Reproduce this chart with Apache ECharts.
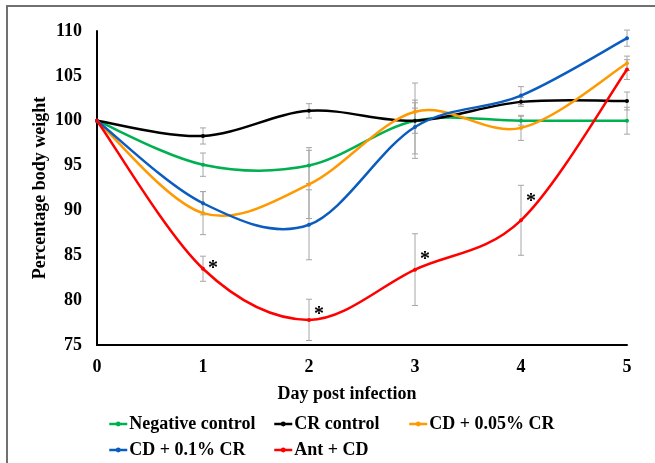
<!DOCTYPE html>
<html>
<head>
<meta charset="utf-8">
<script src="https://cdn.jsdelivr.net/npm/echarts@6/dist/echarts.min.js"></script>
<style>
html,body{margin:0;padding:0;background:#fff;}
#main{width:655px;height:463px;}
</style>
</head>
<body>
<div id="main"></div>
<script>
// days post infection
var days = [0, 1, 2, 3, 4, 5];
// mean percentage body weight per group
var negCtrl = [100, 95.1, 95.0, 100.0, 100.0, 100.0];
var crCtrl = [100, 98.3, 101.1, 100.0, 102.1, 102.2];
var cd005 = [100, 89.7, 92.9, 101.0, 99.2, 106.4];
var cd01 = [100, 90.8, 88.4, 99.3, 102.8, 109.2];
var antCd = [100, 83.5, 77.8, 83.4, 88.9, 105.7];
// error (+/-) per group
var negErr = [0, 1.3, 2.0, 4.2, 0.5, 1.5];
var crErr = [0, 0.9, 0.8, 1.4, 0.5, 1.0];
var cd005Err = [0, 2.4, 3.8, 1.0, 1.4, 0.8];
var cd01Err = [0, 1.3, 3.9, 3.0, 1.0, 0.9];
var antErr = [0, 1.4, 2.3, 4.0, 3.9, 1.1];
// days with significance mark on Ant + CD
var sigDays = [1, 2, 3, 4];
var sigLift = [0, 5, 10, 18];

var groups = [
    {name: 'Negative control', vals: negCtrl, err: negErr, color: '#00B050'},
    {name: 'CR control', vals: crCtrl, err: crErr, color: '#000000'},
    {name: 'CD + 0.05% CR', vals: cd005, err: cd005Err, color: '#FF9900'},
    {name: 'CD + 0.1% CR', vals: cd01, err: cd01Err, color: '#0B5CC0'},
    {name: 'Ant + CD', vals: antCd, err: antErr, color: '#FF0000'}
];

var serif = 'Liberation Serif, Times New Roman, serif';

function errRender(params, api) {
    var x = api.value(0), y = api.value(1), e = api.value(2);
    if (!e) return;
    var top = api.coord([x, y + e]);
    var bot = api.coord([x, y - e]);
    var st = {stroke: '#A6A6A6', lineWidth: 1};
    return {
        type: 'group',
        children: [
            {type: 'line', shape: {x1: top[0], y1: top[1], x2: bot[0], y2: bot[1]}, style: st},
            {type: 'line', shape: {x1: top[0] - 3, y1: top[1], x2: top[0] + 3, y2: top[1]}, style: st},
            {type: 'line', shape: {x1: bot[0] - 3, y1: bot[1], x2: bot[0] + 3, y2: bot[1]}, style: st}
        ]
    };
}

// excel-like smoothed segment from point i to i+1
function curveRender(g) {
    return function(params, api) {
        var i = params.dataIndex;
        if (i >= days.length - 1) return;
        var P = function(k) {
            k = Math.max(0, Math.min(days.length - 1, k));
            return api.coord([days[k], g.vals[k]]);
        };
        var p0 = P(i - 1), p1 = P(i), p2 = P(i + 1), p3 = P(i + 2);
        return {
            type: 'bezierCurve',
            shape: {
                x1: p1[0], y1: p1[1], x2: p2[0], y2: p2[1],
                cpx1: p1[0] + (p2[0] - p0[0]) / 6, cpy1: p1[1] + (p2[1] - p0[1]) / 6,
                cpx2: p2[0] - (p3[0] - p1[0]) / 6, cpy2: p2[1] - (p3[1] - p1[1]) / 6
            },
            style: {stroke: g.color, lineWidth: 2.5, fill: 'none', lineCap: 'round'}
        };
    };
}

var series = [];
groups.forEach(function(g){
    var ed = [];
    for (var i = 0; i < days.length; i++) ed.push([days[i], g.vals[i], g.err[i]]);
    series.push({type: 'custom', renderItem: errRender, data: ed, z: 1, silent: true});
});
groups.forEach(function(g){
    var cd = [];
    for (var i = 0; i < days.length; i++) cd.push([days[i], g.vals[i]]);
    series.push({type: 'custom', renderItem: curveRender(g), data: cd, z: 2, silent: true});
});
groups.forEach(function(g){
    var d = [];
    for (var i = 0; i < days.length; i++) {
        var k = g.name == 'Ant + CD' ? sigDays.indexOf(days[i]) : -1;
        if (k >= 0) {
            d.push({
                value: [days[i], g.vals[i]],
                label: {show: true, formatter: '*', position: 'right', distance: 3,
                    offset: [0, -sigLift[k]], color: '#000', fontSize: 20,
                    fontWeight: 'bold', fontFamily: serif}
            });
        } else {
            d.push([days[i], g.vals[i]]);
        }
    }
    series.push({
        name: g.name,
        type: 'line',
        symbol: 'circle',
        symbolSize: 4,
        data: d,
        z: 3,
        color: g.color,
        lineStyle: {width: 2.5, color: g.color, opacity: 0},
        itemStyle: {color: g.color}
    });
});

function legendCol(names, left) {
    return {
        orient: 'vertical',
        left: left,
        top: 415,
        height: 60,
        padding: 0,
        itemWidth: 18,
        itemHeight: 6,
        itemGap: 8,
        data: names,
        lineStyle: {width: 2.5, opacity: 1},
        textStyle: {color: '#000', fontSize: 18, fontWeight: 'bold', fontFamily: serif, padding: [0, 0, 0, -3]}
    };
}

var myChart = echarts.init(document.getElementById('main'));
var option = {
    animation: false,
    backgroundColor: '#fff',
    graphic: [{
        type: 'rect',
        shape: {x: 7, y: 6, width: 700, height: 520},
        style: {fill: 'none', stroke: '#707070', lineWidth: 2},
        silent: true
    }, {
        // y axis title
        type: 'text',
        x: 40,
        y: 188,
        rotation: Math.PI / 2,
        style: {
            text: 'Percentage body weight',
            fill: '#000',
            font: 'bold 18px ' + serif,
            align: 'center',
            verticalAlign: 'middle'
        },
        silent: true
    }],
    grid: {left: 97, right: 28, top: 31, bottom: 118},
    legend: [
        legendCol(['Negative control', 'CD + 0.1% CR'], 108),
        legendCol(['CR control', 'Ant + CD'], 273),
        legendCol(['CD + 0.05% CR'], 408)
    ],
    xAxis: {
        type: 'value',
        min: 0,
        max: 5,
        interval: 1,
        name: 'Day post infection',
        nameLocation: 'middle',
        nameGap: 40,
        nameTextStyle: {color: '#000', fontSize: 18, fontWeight: 'bold', fontFamily: serif, padding: [0, 30, 0, 0]},
        axisLine: {lineStyle: {color: '#000', width: 2}},
        axisTick: {show: false},
        splitLine: {show: false},
        axisLabel: {color: '#000', fontSize: 18, fontWeight: 'bold', fontFamily: serif, margin: 13}
    },
    yAxis: {
        type: 'value',
        min: 75,
        max: 110,
        interval: 5,
        axisLine: {show: true, lineStyle: {color: '#000', width: 2}},
        axisTick: {show: false},
        splitLine: {show: false},
        axisLabel: {color: '#000', fontSize: 18, fontWeight: 'bold', fontFamily: serif, margin: 15}
    },
    series: series
};
myChart.setOption(option);
</script>
</body>
</html>
